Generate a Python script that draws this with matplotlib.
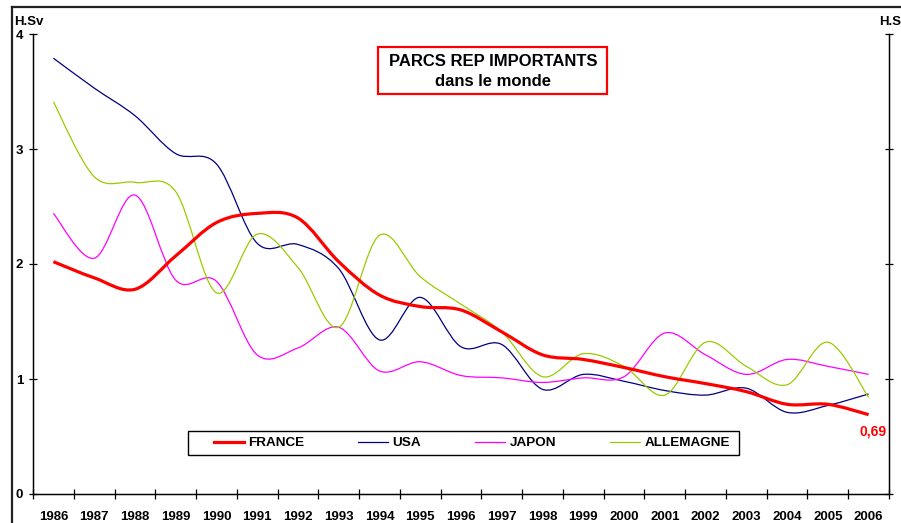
import matplotlib
matplotlib.use("Agg")
import matplotlib.pyplot as plt
from matplotlib.path import Path
from matplotlib.patches import PathPatch, Rectangle
from matplotlib.lines import Line2D
import numpy as np

plt.rcParams['font.family'] = ['Liberation Sans', 'DejaVu Sans']
plt.rcParams['font.weight'] = 'bold'

years = [str(y) for y in range(1986, 2007)]
france = [2.02, 1.88, 1.78, 2.07, 2.36, 2.44, 2.40, 2.02, 1.73, 1.63, 1.60, 1.41, 1.21, 1.17, 1.10, 1.02, 0.96, 0.89, 0.78, 0.78, 0.69]
usa = [3.79, 3.53, 3.29, 2.96, 2.87, 2.18, 2.17, 1.96, 1.34, 1.71, 1.28, 1.30, 0.91, 1.04, 0.98, 0.90, 0.86, 0.92, 0.71, 0.77, 0.87]
japon = [2.44, 2.05, 2.60, 1.86, 1.85, 1.21, 1.27, 1.45, 1.07, 1.15, 1.03, 1.01, 0.97, 1.01, 1.02, 1.40, 1.21, 1.04, 1.17, 1.11, 1.04]
allemagne = [3.41, 2.76, 2.71, 2.63, 1.75, 2.26, 1.97, 1.45, 2.25, 1.89, 1.65, 1.41, 1.02, 1.22, 1.11, 0.86, 1.32, 1.11, 0.95, 1.32, 0.84]

series = [
    ("FRANCE", france, "#FF0000", 2.3),
    ("USA", usa, "#000080", 0.9),
    ("JAPON", japon, "#FF00FF", 0.9),
    ("ALLEMAGNE", allemagne, "#99CC00", 0.9),
]

W, H = 901, 523
fig = plt.figure(figsize=(W / 100, H / 100), dpi=100)
ax = fig.add_axes([33 / W, 29 / H, 856 / W, 460 / H])
ax.set_xlim(-0.5, len(years) - 0.5)
ax.set_ylim(0, 4)


def smooth_path(xs, ys):
    xs = np.asarray(xs, float)
    ys = np.asarray(ys, float)
    n = len(xs)
    verts = [(xs[0], ys[0])]
    codes = [Path.MOVETO]
    for i in range(n - 1):
        p0 = np.array([xs[max(i - 1, 0)], ys[max(i - 1, 0)]])
        p1 = np.array([xs[i], ys[i]])
        p2 = np.array([xs[i + 1], ys[i + 1]])
        p3 = np.array([xs[min(i + 2, n - 1)], ys[min(i + 2, n - 1)]])
        c1 = p1 + (p2 - p0) / 6.0
        c2 = p2 - (p3 - p1) / 6.0
        verts += [tuple(c1), tuple(c2), tuple(p2)]
        codes += [Path.CURVE4] * 3
    return Path(verts, codes)


xpos = np.arange(len(years))
handles = []
for name, vals, col, lw in series:
    patch = PathPatch(smooth_path(xpos, vals), facecolor='none', edgecolor=col,
                      lw=lw, transform=ax.transData, zorder=3 if name == "FRANCE" else 2)
    ax.add_patch(patch)
    handles.append(Line2D([], [], color=col, lw=lw))

# spines
ax.spines['top'].set_visible(False)
for s in ['left', 'right', 'bottom']:
    ax.spines[s].set_linewidth(1.0)
    ax.spines[s].set_color('#000000')

ax.set_yticks([0, 1, 2, 3, 4])
ax.set_yticklabels(['0', '1', '2', '3', '4'], fontsize=9.5, fontweight='bold')
ax.tick_params(axis='y', direction='inout', length=6, width=0.9, pad=4)

ax.set_xticks(xpos)
ax.set_xticklabels(years, fontsize=9.5, fontweight='bold')
ax.tick_params(axis='x', which='major', length=0, pad=12)
ax.set_xticks(np.arange(-0.5, len(years), 1.0), minor=True)
ax.tick_params(axis='x', which='minor', direction='inout', length=7, width=0.9)

ax2 = ax.twinx()
ax2.set_ylim(0, 4)
ax2.set_yticks([0, 1, 2, 3, 4])
ax2.set_yticklabels(['0', '1', '2', '3', '4'], fontsize=9.5, fontweight='bold', color='#888888')
ax2.tick_params(axis='y', direction='inout', length=6, width=0.9, pad=7)
ax2.spines['top'].set_visible(False)

# unit labels
fig.text(14 / W, 1 - 22 / H, "H.Sv", fontsize=9.5, fontweight='bold', va='center', ha='left')
fig.text(879 / W, 1 - 22 / H, "H.Sv", fontsize=9.5, fontweight='bold', va='center', ha='left')

# outer frame lines
fig.add_artist(Line2D([12 / W, 1.0], [1 - 7 / H, 1 - 7 / H], color='#222222', lw=1.6,
                      transform=fig.transFigure))
fig.add_artist(Line2D([12 / W, 12 / W], [0, 1 - 7 / H], color='#222222', lw=1.6,
                      transform=fig.transFigure))

# title box
fig.add_artist(Rectangle((378 / W, 1 - 94 / H), (607 - 378) / W, (94 - 47) / H,
                         transform=fig.transFigure, facecolor='white',
                         edgecolor='#FF0000', lw=1.6))
fig.text(493 / W, 1 - 61 / H, "PARCS REP IMPORTANTS", fontsize=12, fontweight='bold',
         ha='center', va='center')
fig.text(493 / W, 1 - 82 / H, "dans le monde", fontsize=12, fontweight='bold',
         ha='center', va='center')

# legend
fig.add_artist(Rectangle((188 / W, 1 - 455 / H), (739 - 188) / W, (455 - 431) / H,
                         transform=fig.transFigure, facecolor='white',
                         edgecolor='#000000', lw=1.0, zorder=4))
leg = fig.legend(handles, [s[0] for s in series], ncol=4, loc='center left',
                 bbox_to_anchor=(214 / W, 1 - 443 / H), frameon=False,
                 borderpad=0, borderaxespad=0, handlelength=2.2, handletextpad=0.35,
                 columnspacing=4.0, prop={'size': 9.7, 'weight': 'bold'})
leg.set_zorder(5)

# end value annotation
ax.annotate("0,69", xy=(873 / W, 1 - 431 / H), xycoords='figure fraction',
            ha='center', va='center', color='#FF0000', fontsize=10, fontweight='bold')

fig.savefig("out.png", dpi=100)
